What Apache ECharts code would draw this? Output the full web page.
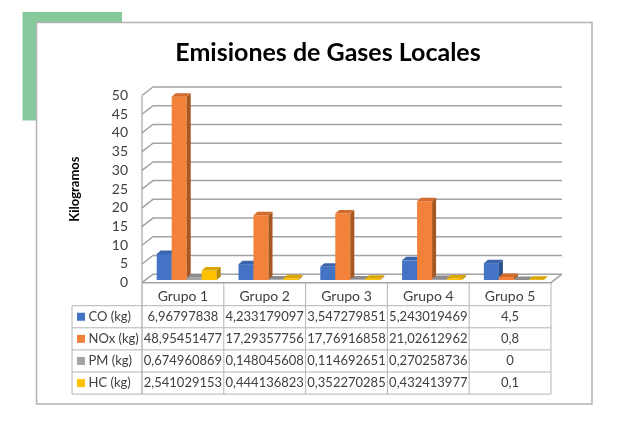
<!DOCTYPE html>
<html>
<head>
<meta charset="utf-8">
<script src="https://cdn.jsdelivr.net/npm/echarts@6/dist/echarts.min.js"></script>
<style>
    html, body { margin: 0; padding: 0; background: #fff; }
    #chart { width: 624px; height: 423px; }
</style>
</head>
<body>
<div id="chart"></div>
<script>
// datos
var groups = ['Grupo 1', 'Grupo 2', 'Grupo 3', 'Grupo 4', 'Grupo 5'];
var seriesNames = ['CO (kg)', 'NOx (kg)', 'PM (kg)', 'HC (kg)'];
var co = [6.96797838, 4.233179097, 3.547279851, 5.243019469, 4.5];
var nox = [48.95451477, 17.29357756, 17.76916858, 21.02612962, 0.8];
var pm = [0.674960869, 0.148045608, 0.114692651, 0.270258736, 0];
var hc = [2.541029153, 0.444136823, 0.352270285, 0.432413977, 0.1];
var yTicks = [0, 5, 10, 15, 20, 25, 30, 35, 40, 45, 50];

var allData = [co, nox, pm, hc];
// colores: frente, lado, tapa
var colFront = ['#4472c4', '#f2823a', '#a5a5a5', '#ffc000'];
var colSide = ['#2d4f8c', '#a8561f', '#6f6f6f', '#b88a00'];
var colTop = ['#3a64ae', '#d46a2c', '#8c8c8c', '#dca600'];

// layout
var GL = 142, GR = 73, GT = 95.5, GB = 140.3;
var DX = 11, DY = -8.5;          // profundidad de la pared
var BAR_OFF = 14.7, BAR_W = 15, BAR_OY = -2.7;
var SD_X = 4, SD_Y = -3.5;       // profundidad de la barra
var TBL_LEFT = 72, ROW_TOP = 305.7, ROW_H = 22.1;
var LINE = '#b4b4b4', TXT = '#404040';
var FONT = 'Lato, "Noto Sans", sans-serif';
var FS = 13;

var chart = echarts.init(document.getElementById('chart'));

function fmt(v) {
    return String(v).replace('.', ',');
}

function barItem(params, api) {
    var s = params.seriesIndex;
    var c = api.coord([api.value(0), 0]);
    var t = api.coord([api.value(0), api.value(1)]);
    var band = api.size([1, 0])[0];
    var x0 = c[0] - band / 2 + BAR_OFF + s * BAR_W;
    var x1 = x0 + BAR_W;
    var yb = c[1] + BAR_OY;
    var yt = t[1] + BAR_OY;
    return {
        type: 'group',
        children: [
            { type: 'polygon', shape: { points: [[x0, yb], [x1, yb], [x1, yt], [x0, yt]] }, style: { fill: colFront[s] } },
            { type: 'polygon', shape: { points: [[x1, yb], [x1 + SD_X, yb + SD_Y], [x1 + SD_X, yt + SD_Y], [x1, yt]] }, style: { fill: colSide[s] } },
            { type: 'polygon', shape: { points: [[x0, yt], [x1, yt], [x1 + SD_X, yt + SD_Y], [x0 + SD_X, yt + SD_Y]] }, style: { fill: colTop[s] } }
        ]
    };
}

function wallItem(params, api) {
    var cs = params.coordSys;
    var v = api.value(1);
    var y = api.coord([0, v])[1];
    var x = cs.x, w = cs.width;
    var children = [{
        type: 'polyline',
        shape: { points: [[x, y], [x + DX, y + DY], [x + w + DX, y + DY]] },
        style: { stroke: '#a3a3a3', lineWidth: 1.5, fill: null }
    }];
    if (v === 0) {
        children.push({
            type: 'polyline',
            shape: { points: [[x, y], [x + w, y], [x + w + DX, y + DY]] },
            style: { stroke: '#a3a3a3', lineWidth: 1.5, fill: null }
        });
        var yTop = api.coord([0, yTicks[yTicks.length - 1]])[1];
        children.push({
            type: 'line',
            shape: { x1: x, y1: yTop, x2: x, y2: ROW_TOP + ROW_H * 4 },
            style: { stroke: '#a3a3a3', lineWidth: 1.2 }
        });
    }
    return { type: 'group', children: children };
}

// tabla de datos
function buildTable() {
    var els = [];
    var colW = (624 - GR - GL) / groups.length;
    var bottom = ROW_TOP + ROW_H * seriesNames.length;
    var right = GL + colW * groups.length;
    for (var r = 0; r <= seriesNames.length; r++) {
        var y = ROW_TOP + ROW_H * r;
        els.push({ type: 'line', shape: { x1: TBL_LEFT, y1: y, x2: right, y2: y }, style: { stroke: LINE, lineWidth: 1 } });
    }
    els.push({ type: 'line', shape: { x1: TBL_LEFT, y1: ROW_TOP, x2: TBL_LEFT, y2: bottom }, style: { stroke: LINE, lineWidth: 1 } });
    for (var k = 1; k <= groups.length; k++) {
        var x = GL + colW * k;
        els.push({ type: 'line', shape: { x1: x, y1: 423 - GB, x2: x, y2: bottom }, style: { stroke: LINE, lineWidth: 1 } });
    }
    for (var i = 0; i < seriesNames.length; i++) {
        var yc = ROW_TOP + ROW_H * i + ROW_H / 2;
        els.push({ type: 'rect', shape: { x: 77, y: yc - 4, width: 8, height: 8 }, style: { fill: colFront[i] } });
        els.push({ type: 'text', x: 88.5, y: yc, style: { text: seriesNames[i], fill: TXT, font: FS + 'px ' + FONT, textVerticalAlign: 'middle' } });
        for (var j = 0; j < groups.length; j++) {
            els.push({
                type: 'text', x: GL + colW * j + colW / 2, y: yc,
                style: { text: fmt(allData[i][j]), fill: TXT, font: FS + 'px ' + FONT, textAlign: 'center', textVerticalAlign: 'middle' }
            });
        }
    }
    return els;
}

var series = [];
for (var s = 0; s < allData.length; s++) {
    var d = [];
    for (var g = 0; g < groups.length; g++) {
        d.push([g, allData[s][g]]);
    }
    series.push({ name: seriesNames[s], type: 'custom', renderItem: barItem, data: d, z: 3 });
}
var wallData = [];
for (var t = 0; t < yTicks.length; t++) {
    wallData.push([0, yTicks[t]]);
}
series.push({ type: 'custom', renderItem: wallItem, data: wallData, z: 1, silent: true });

var option = {
    animation: false,
    backgroundColor: '#ffffff',
    title: {
        text: 'Emisiones de Gases Locales',
        left: 323,
        top: 35,
        textAlign: 'center',
        textStyle: { fontFamily: FONT, fontWeight: 'bold', fontSize: 25, color: '#000' }
    },
    graphic: [
        { type: 'rect', z: -10, shape: { x: 22.5, y: 12, width: 99.5, height: 108.5 }, style: { fill: '#86ca9c' } },
        { type: 'rect', z: -9, shape: { x: 36.5, y: 22.5, width: 555.5, height: 381.5 }, style: { fill: '#fff', stroke: '#b3b3b3', lineWidth: 1.5 } }
    ].concat(buildTable()),
    grid: { left: GL, right: GR, top: GT, bottom: GB },
    xAxis: {
        type: 'category',
        data: groups,
        axisLine: { show: false },
        axisTick: { show: false },
        axisLabel: { margin: 7, color: TXT, fontSize: 14, fontFamily: FONT }
    },
    yAxis: {
        type: 'value',
        min: 0,
        max: 50,
        interval: 5,
        name: 'Kilogramos',
        nameLocation: 'middle',
        nameRotate: 90,
        nameGap: 61,
        nameTextStyle: { fontFamily: FONT, fontWeight: 'bold', fontSize: 13, color: '#000' },
        axisLine: { show: false },
        axisTick: { show: false },
        splitLine: { show: false },
        axisLabel: { margin: 14, color: '#404040', fontSize: 14, fontFamily: FONT }
    },
    series: series
};
chart.setOption(option);
</script>
</body>
</html>
